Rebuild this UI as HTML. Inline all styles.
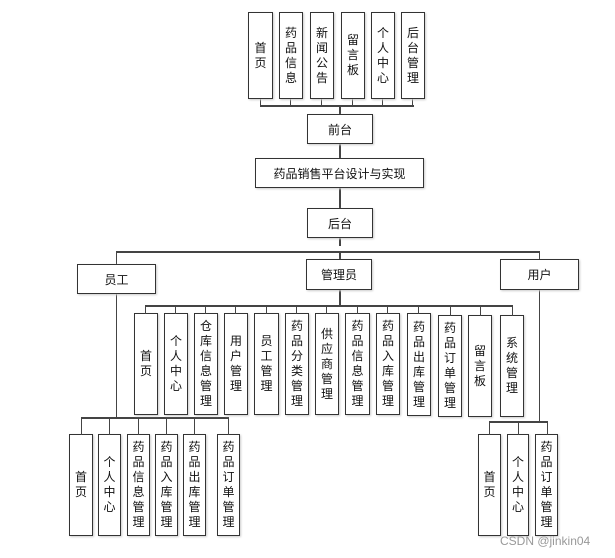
<!DOCTYPE html>
<html><head><meta charset="utf-8"><style>
body{margin:0;width:615px;height:558px;background:#fff;position:relative;overflow:hidden;font-family:"Liberation Sans","Noto Sans CJK SC",sans-serif;}
.b{position:absolute;border:1.5px solid #333;box-sizing:border-box;background:#fff;display:flex;align-items:center;justify-content:center;font-size:12px;color:#111;box-shadow:1px 1px 2px #ccc;}
.v{flex-direction:column;line-height:15px;text-align:center;}
.l{position:absolute;background:#444;}
</style></head><body>
<!-- lines -->
<div class="l" style="left:260px;top:105px;width:154px;height:2px"></div>
<div class="l" style="left:260px;top:98px;width:1px;height:8px"></div>
<div class="l" style="left:290px;top:98px;width:1px;height:8px"></div>
<div class="l" style="left:321px;top:98px;width:1px;height:8px"></div>
<div class="l" style="left:352px;top:98px;width:1px;height:8px"></div>
<div class="l" style="left:382px;top:98px;width:1px;height:8px"></div>
<div class="l" style="left:412px;top:98px;width:1px;height:8px"></div>
<div class="l" style="left:339px;top:106px;width:2px;height:140px"></div>
<div class="l" style="left:116px;top:251px;width:424px;height:2px"></div>
<div class="l" style="left:116px;top:252px;width:1px;height:167px"></div>
<div class="l" style="left:539px;top:252px;width:1px;height:171px"></div>
<div class="l" style="left:339px;top:252px;width:2px;height:55px"></div>
<div class="l" style="left:145px;top:305px;width:368px;height:2px"></div>
<div class="l" style="left:81px;top:417px;width:148px;height:2px"></div>
<div class="l" style="left:489px;top:421px;width:59px;height:2px"></div>
<div id="stubs"></div>
<!-- top -->
<div class="b v" style="left:248px;top:12px;width:25px;height:87px">首<br>页</div>
<div class="b v" style="left:279px;top:12px;width:24px;height:87px">药<br>品<br>信<br>息</div>
<div class="b v" style="left:310px;top:12px;width:24px;height:87px">新<br>闻<br>公<br>告</div>
<div class="b v" style="left:341px;top:12px;width:24px;height:87px">留<br>言<br>板</div>
<div class="b v" style="left:371px;top:12px;width:24px;height:87px">个<br>人<br>中<br>心</div>
<div class="b v" style="left:401px;top:12px;width:24px;height:87px">后<br>台<br>管<br>理</div>
<div class="b" style="left:307px;top:114px;width:66px;height:30px">前台</div>
<div class="b" style="left:255px;top:158px;width:169px;height:30px">药品销售平台设计与实现</div>
<div class="b" style="left:307px;top:208px;width:66px;height:30px">后台</div>
<div class="b" style="left:77px;top:264px;width:79px;height:30px">员工</div>
<div class="b" style="left:306px;top:259px;width:66px;height:31px">管理员</div>
<div class="b" style="left:500px;top:259px;width:79px;height:31px">用户</div>
<!-- admin -->
<div class="b v" style="left:134px;top:313px;width:24px;height:102px">首<br>页</div>
<div class="b v" style="left:164px;top:313px;width:24px;height:102px">个<br>人<br>中<br>心</div>
<div class="b v" style="left:194px;top:313px;width:24px;height:102px">仓<br>库<br>信<br>息<br>管<br>理</div>
<div class="b v" style="left:224px;top:313px;width:24px;height:102px">用<br>户<br>管<br>理</div>
<div class="b v" style="left:254px;top:313px;width:25px;height:102px">员<br>工<br>管<br>理</div>
<div class="b v" style="left:285px;top:313px;width:24px;height:102px">药<br>品<br>分<br>类<br>管<br>理</div>
<div class="b v" style="left:315px;top:313px;width:24px;height:102px">供<br>应<br>商<br>管<br>理</div>
<div class="b v" style="left:345px;top:313px;width:25px;height:102px">药<br>品<br>信<br>息<br>管<br>理</div>
<div class="b v" style="left:376px;top:313px;width:24px;height:102px">药<br>品<br>入<br>库<br>管<br>理</div>
<div class="b v" style="left:407px;top:313px;width:24px;height:103px">药<br>品<br>出<br>库<br>管<br>理</div>
<div class="b v" style="left:438px;top:315px;width:24px;height:102px">药<br>品<br>订<br>单<br>管<br>理</div>
<div class="b v" style="left:468px;top:315px;width:24px;height:102px">留<br>言<br>板</div>
<div class="b v" style="left:500px;top:315px;width:24px;height:102px">系<br>统<br>管<br>理</div>
<!-- employee -->
<div class="b v" style="left:69px;top:434px;width:24px;height:102px">首<br>页</div>
<div class="b v" style="left:98px;top:434px;width:23px;height:102px">个<br>人<br>中<br>心</div>
<div class="b v" style="left:127px;top:434px;width:23px;height:102px">药<br>品<br>信<br>息<br>管<br>理</div>
<div class="b v" style="left:155px;top:434px;width:23px;height:102px">药<br>品<br>入<br>库<br>管<br>理</div>
<div class="b v" style="left:183px;top:434px;width:23px;height:102px">药<br>品<br>出<br>库<br>管<br>理</div>
<div class="b v" style="left:217px;top:434px;width:23px;height:102px">药<br>品<br>订<br>单<br>管<br>理</div>
<!-- user -->
<div class="b v" style="left:478px;top:434px;width:23px;height:102px">首<br>页</div>
<div class="b v" style="left:507px;top:434px;width:22px;height:102px">个<br>人<br>中<br>心</div>
<div class="b v" style="left:535px;top:434px;width:23px;height:102px">药<br>品<br>订<br>单<br>管<br>理</div>
<!-- stubs -->
<div class="l" style="left:145px;top:306px;width:1px;height:8px"></div>
<div class="l" style="left:175px;top:306px;width:1px;height:8px"></div>
<div class="l" style="left:205px;top:306px;width:1px;height:8px"></div>
<div class="l" style="left:235px;top:306px;width:1px;height:8px"></div>
<div class="l" style="left:266px;top:306px;width:1px;height:8px"></div>
<div class="l" style="left:296px;top:306px;width:1px;height:8px"></div>
<div class="l" style="left:326px;top:306px;width:1px;height:8px"></div>
<div class="l" style="left:357px;top:306px;width:1px;height:8px"></div>
<div class="l" style="left:387px;top:306px;width:1px;height:8px"></div>
<div class="l" style="left:418px;top:306px;width:1px;height:8px"></div>
<div class="l" style="left:450px;top:306px;width:1px;height:10px"></div>
<div class="l" style="left:480px;top:306px;width:1px;height:10px"></div>
<div class="l" style="left:512px;top:306px;width:1px;height:10px"></div>
<div class="l" style="left:81px;top:418px;width:1px;height:17px"></div>
<div class="l" style="left:109px;top:418px;width:1px;height:17px"></div>
<div class="l" style="left:138px;top:418px;width:1px;height:17px"></div>
<div class="l" style="left:166px;top:418px;width:1px;height:17px"></div>
<div class="l" style="left:194px;top:418px;width:1px;height:17px"></div>
<div class="l" style="left:228px;top:418px;width:1px;height:17px"></div>
<div class="l" style="left:489px;top:422px;width:1px;height:13px"></div>
<div class="l" style="left:518px;top:422px;width:1px;height:13px"></div>
<div class="l" style="left:547px;top:422px;width:1px;height:13px"></div>
<div style="position:absolute;left:500px;top:534px;font-size:12px;color:#999;">CSDN @jinkin04</div>
</body></html>
